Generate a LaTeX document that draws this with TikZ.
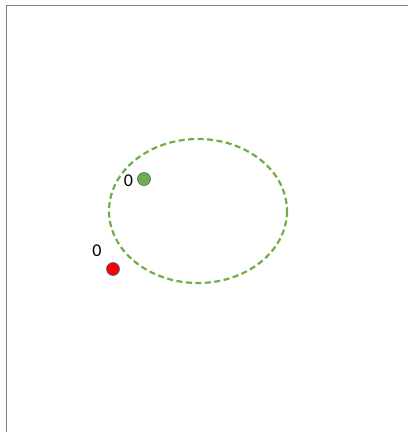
\documentclass[tikz,border=0pt]{standalone}
\usepackage{fontspec}
\setmainfont{Carlito}
\usepackage{tikz}
\definecolor{dotgreen}{HTML}{70AD47}
\definecolor{dotred}{HTML}{FF0000}
\definecolor{dotedge}{HTML}{41719C}
\tikzstyle{frameline} = [draw=gray, line width=1.5pt]
\tikzstyle{zone} = [draw=dotgreen, line width=2.2pt, dash pattern=on 6pt off 3.5pt]
\tikzstyle{dot} = [circle, minimum size=13pt, inner sep=0pt, draw=dotedge, line width=0.7pt]
\tikzstyle{greendot} = [dot, fill=dotgreen]
\tikzstyle{reddot} = [dot, fill=dotred]
\tikzstyle{dotlabel} = [inner sep=0pt, font=\fontsize{18}{20}\selectfont]

\begin{document}
\begin{tikzpicture}[x=1pt, y=-1pt]
\useasboundingbox (0, 0) rectangle (408, 432);
% Frame, top and left edges
\coordinate (topright) at (408, 5.5);
\coordinate (corner) at (6.5, 5.5);
\coordinate (bottomleft) at (6.5, 432);
\draw[frameline] (topright) -- (corner) -- (bottomleft);
% Dashed region
\draw[zone] (198, 211) ellipse [x radius=89, y radius=72];
% Points and their labels
\node[greendot] (pgreen) at (144, 179) {};
\node[dotlabel] (lgreen) at (128.5, 181) {0};
\node[reddot] (pred) at (113, 269) {};
\node[dotlabel] (lred) at (97, 251) {0};
\end{tikzpicture}
\end{document}
